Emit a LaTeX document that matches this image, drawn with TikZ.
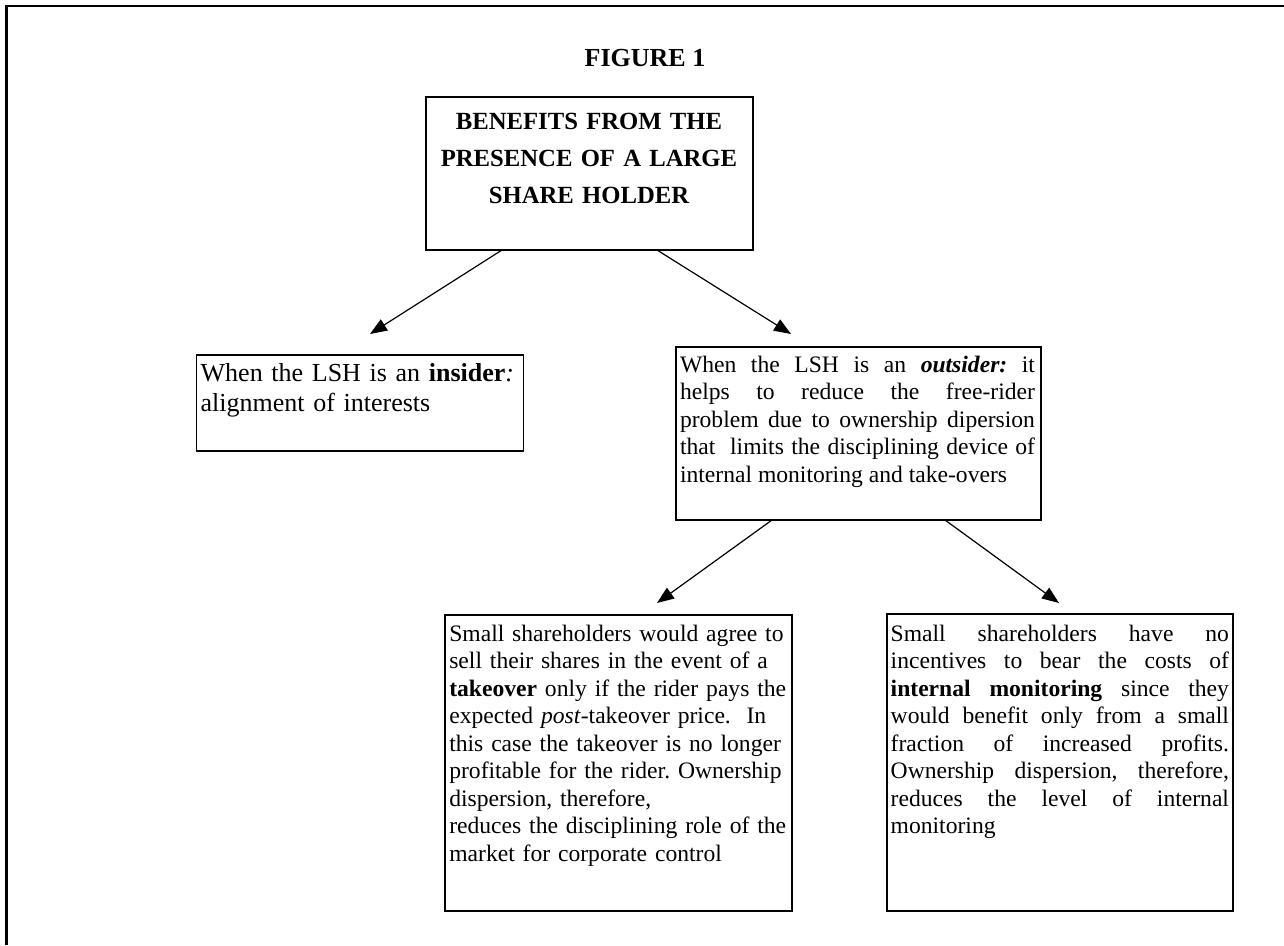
\documentclass[tikz,border=0pt]{standalone}
\usepackage{fontspec}
\setmainfont{Liberation Serif}
\usetikzlibrary{arrows.meta,calc}
\begin{document}
\frenchspacing
\begin{tikzpicture}[x=1pt,y=-1pt,
  box/.style={draw,line width=1.5pt,inner sep=0pt,outer sep=0pt,anchor=north west},
  txt/.style={inner sep=0pt,outer sep=0pt,anchor=base west,font=\fontsize{23.6}{27.55}\selectfont\frenchspacing},
  conn/.style={line width=1.2pt,-{Triangle[length=17pt,width=13pt]}}]
\useasboundingbox (0,0) rectangle (1284,945);
\draw[line width=2.3pt] (6.5,945) -- (6.5,6) -- (1284,6);
% title
\node[inner sep=0pt,anchor=base,font=\fontsize{26}{30}\selectfont\bfseries] (title) at (645,66.7) {FIGURE 1};
% boxes
\node[box,minimum width=327pt,minimum height=153pt] (top) at (426,97) {};
\node[box,minimum width=327pt,minimum height=96pt] (ins) at (196.5,355) {};
\node[box,minimum width=365pt,minimum height=173pt] (out) at (676,347) {};
\node[box,minimum width=347pt,minimum height=296pt] (tko) at (445,615) {};
\node[box,minimum width=346pt,minimum height=297pt] (mon) at (887,614) {};
% texts
\node[inner sep=0pt,anchor=base,text width=330pt,align=center,font=\fontsize{24.7}{37.2}\selectfont\bfseries] (toptxt) at (589,129) {BENEFITS FROM THE\\PRESENCE OF A LARGE\\SHARE HOLDER};
\node[txt,text width=322pt,align=left,font=\fontsize{26}{30}\selectfont] (instxt) at (200.7,381.7) {When the LSH is an \textbf{insider}\textit{:}\\alignment of interests};
\node[txt,text width=355pt,align=justify] (outtxt) at (680,372) {When the LSH is an \textbf{\textit{outsider:}} it\linebreak helps to reduce the free-rider\linebreak problem due to ownership dipersion\linebreak that\ \ limits the disciplining device of\linebreak internal monitoring and take-overs};
\node[txt,text width=360pt,align=left] (tkotxt) at (449.3,641) {Small shareholders would agree to\\sell their shares in the event of a\\\textbf{takeover} only if the rider pays the\\expected \textit{post}-takeover price.\ \ In\\this case the takeover is no longer\\profitable for the rider. Ownership\\dispersion, therefore,\\reduces the disciplining role of the\\market for corporate control};
\node[txt,text width=338.3pt,align=justify] (montxt) at (890.7,641) {Small shareholders have no\linebreak incentives to bear the costs of\linebreak \textbf{internal monitoring} since they\linebreak would benefit only from a small\linebreak fraction of increased profits.\linebreak Ownership dispersion, therefore,\linebreak reduces the level of internal\linebreak monitoring};
% connectors
\coordinate (tipins) at (370,334);
\coordinate (tipout) at (791,334);
\coordinate (tiptko) at (657,603);
\coordinate (tipmon) at (1059,603);
\draw[conn] ($(top.south west)+(76,0)$) -- (tipins);
\draw[conn] ($(top.south west)+(231,0)$) -- (tipout);
\draw[conn] ($(out.south west)+(96,0)$) -- (tiptko);
\draw[conn] ($(out.south west)+(269,0)$) -- (tipmon);
\end{tikzpicture}
\end{document}
